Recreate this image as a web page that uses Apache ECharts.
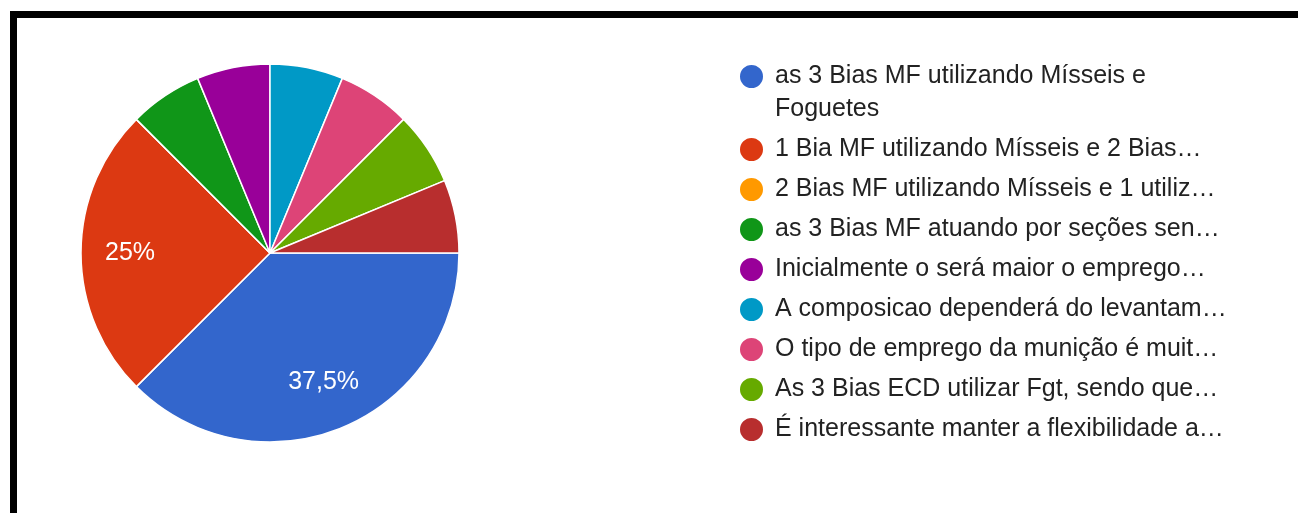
<!DOCTYPE html>
<html>
<head>
<meta charset="utf-8">
<style>
  html, body { margin: 0; padding: 0; background: #ffffff; }
  #chart { width: 1298px; height: 513px; }
</style>
<script src="https://cdn.jsdelivr.net/npm/echarts@6/dist/echarts.min.js"></script>
</head>
<body>
<div id="chart"></div>
<script>
// Answer options (legend labels as displayed)
const categories = [
  'as 3 Bias MF utilizando Mísseis e Foguetes',
  '1 Bia MF utilizando Mísseis e 2 Bias…',
  '2 Bias MF utilizando Mísseis e 1 utiliz…',
  'as 3 Bias MF atuando por seções sen…',
  'Inicialmente o será maior o emprego…',
  'A composicao dependerá do levantam…',
  'O tipo de emprego da munição é muit…',
  'As 3 Bias ECD utilizar Fgt, sendo que…',
  'É interessante manter a flexibilidade a…'
];
// Number of responses per option
const responses = [6, 4, 0, 1, 1, 1, 1, 1, 1];
const palette = ['#3366cc', '#dc3912', '#ff9900', '#109618', '#990099',
                 '#0099c6', '#dd4477', '#66aa00', '#b82e2e'];

const pieData = categories.map((name, i) => ({ name, value: responses[i] }));

// the first option is long enough to wrap onto a second line
const legendData = categories.map((name, i) =>
  i === 0 ? { name, textStyle: { width: 440, overflow: 'break' } } : { name }
);

const chart = echarts.init(document.getElementById('chart'), null, { renderer: 'canvas' });

const fmtPct = p => (Math.round(p.percent * 10) / 10).toString().replace('.', ',') + '%';
const FONT = '"Liberation Sans", Arial, sans-serif';

chart.setOption({
  animation: false,
  color: palette,
  graphic: [
    { type: 'rect', shape: { x: 10, y: 11, width: 1288, height: 7 }, style: { fill: '#000' }, z: 100 },
    { type: 'rect', shape: { x: 10, y: 11, width: 7, height: 502 }, style: { fill: '#000' }, z: 100 }
  ],
  legend: {
    orient: 'vertical',
    left: 738,
    top: 25,
    padding: 0,
    itemGap: 3,
    itemWidth: 25,
    itemHeight: 25,
    icon: 'circle',
    data: legendData,
    // a leading blank line keeps the bullet level with the first text line of a wrapped item
    formatter: name => (name === categories[0] ? '\n' + name : name),
    textStyle: {
      fontFamily: FONT,
      fontSize: 25,
      lineHeight: 33,
      color: '#222222',
      padding: [4, 0, 0, 6]
    }
  },
  series: [
    {
      type: 'pie',
      center: [270, 253],
      radius: [0, 189],
      startAngle: 0,
      clockwise: true,
      data: pieData,
      label: { show: false },
      labelLine: { show: false },
      itemStyle: { borderColor: '#ffffff', borderWidth: 1.5 },
      emphasis: { disabled: true }
    },
    {
      // transparent ring carrying the percentage labels
      type: 'pie',
      center: [270, 253],
      radius: [85, 189],
      startAngle: 0,
      clockwise: true,
      silent: true,
      data: pieData,
      itemStyle: { color: 'rgba(0,0,0,0)' },
      labelLine: { show: false },
      label: {
        show: true,
        position: 'inside',
        color: '#ffffff',
        fontFamily: FONT,
        fontSize: 25,
        padding: [3, 0, 0, 0],
        formatter: p => (p.percent >= 10 ? fmtPct(p) : '')
      },
      emphasis: { disabled: true }
    }
  ]
});
</script>
</body>
</html>
